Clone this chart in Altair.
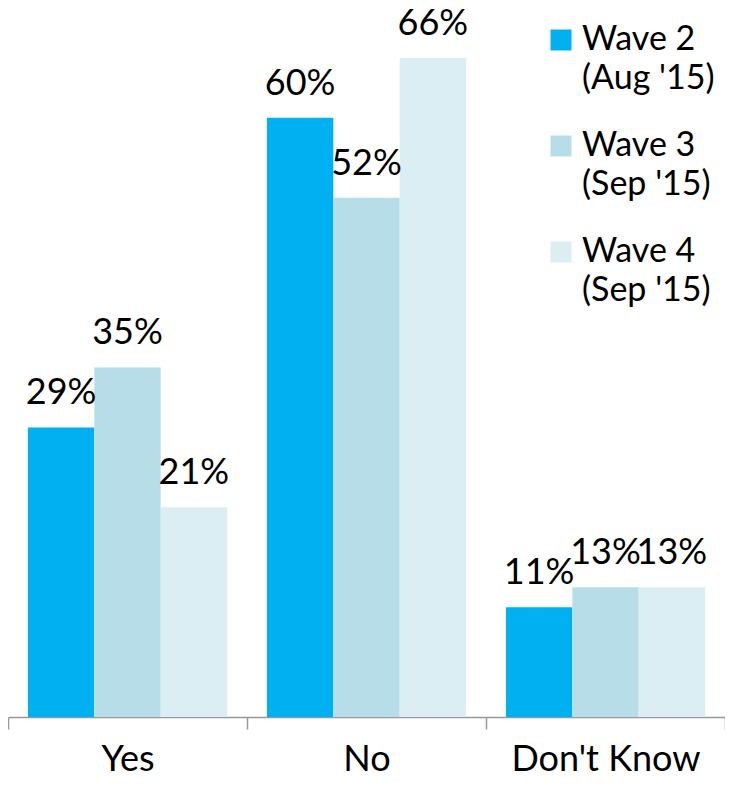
import altair as alt
import pandas as pd

categories = ["Yes", "No", "Don't Know"]
waves = ["Wave 2|(Aug '15)", "Wave 3|(Sep '15)", "Wave 4|(Sep '15)"]
wave2 = [29, 60, 11]
wave3 = [35, 52, 13]
wave4 = [21, 66, 13]
colors = ["#00B0F0", "#B7DEE8", "#DAEEF3"]

rows = []
for w, vals in zip(waves, [wave2, wave3, wave4]):
    for c, v in zip(categories, vals):
        rows.append({"answer": c, "wave": w, "value": v, "label": f"{v}%"})
df = pd.DataFrame(rows)

FONT = "Lato"

x = alt.X(
    "answer:N", sort=categories,
    scale=alt.Scale(paddingInner=0, paddingOuter=0),
    axis=alt.Axis(title=None, labelAngle=0, labelFont=FONT, labelFontSize=36,
                  labelColor="black", tickBand="extent", ticks=True, tickSize=12,
                  tickColor="#999999", domainColor="#999999", tickWidth=1.5,
                  domainWidth=1.5, labelBaseline="alphabetic", labelPadding=41,
                  labelLimit=400),
)
xo = alt.XOffset("wave:N", sort=waves, scale=alt.Scale(paddingOuter=0.3, paddingInner=0))
y = alt.Y("value:Q", scale=alt.Scale(domain=[0, 70.6]), axis=None)

bars = alt.Chart(df).mark_bar().encode(
    x=x, xOffset=xo, y=y,
    color=alt.Color("wave:N", sort=waves,
                    scale=alt.Scale(domain=waves, range=colors),
                    legend=alt.Legend(title=None, orient="none", legendX=536, legendY=11,
                                      symbolType="square", symbolSize=441,
                                      symbolStrokeWidth=0, labelFont=FONT,
                                      labelFontSize=34, labelColor="black",
                                      labelExpr="split(datum.label, '|')",
                                      labelOffset=4, rowPadding=33, padding=0,
                                      labelLimit=300)),
)

text = alt.Chart(df).mark_text(baseline="alphabetic", dy=-23, fontSize=36, font=FONT,
                               color="black").encode(
    x=x, xOffset=xo, y=y, text="label:N"
)

chart = (bars + text).properties(
    width=717, height=705,
    autosize=alt.AutoSizeParams(type="none"),
    padding={"left": 0, "top": 4, "right": 0, "bottom": 60},
).configure(style={"guide-label": {"lineHeight": 39}}).configure_view(stroke=None)

chart.save("out.html", embed_options={"renderer": "svg", "actions": False})
